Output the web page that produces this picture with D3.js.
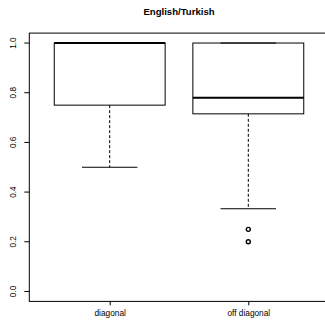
<!DOCTYPE html>
<html><head><meta charset="utf-8">
<script src="https://cdn.jsdelivr.net/npm/d3@7"></script>
<style>body{margin:0;background:#fff}svg{display:block;font-family:"Liberation Sans",Arial,sans-serif}</style>
</head><body>
<script>
const title = "English/Turkish";
const categories = ["diagonal", "off diagonal"];
const q1 = [0.75, 0.715];
const medians = [1.0, 0.78];
const q3 = [1.0, 1.0];
const whiskerLow = [0.5, 0.333];
const whiskerHigh = [1.0, 1.0];
const outliers = [[], [0.25, 0.2]];
const yTicks = [0.0, 0.2, 0.4, 0.6, 0.8, 1.0];

const W = 325, H = 322;
const svg = d3.select("body").append("svg").attr("width", W).attr("height", H);

const x = d3.scaleLinear().domain([0.42, 2.58]).range([29.3, 328.7]);
const y = d3.scaleLinear().domain([-0.04, 1.04]).range([301.4, 33.1]);
const bw = 0.4;

svg.append("rect").attr("x", x(0.42)).attr("y", y(1.04)).attr("width", x(2.58) - x(0.42)).attr("height", y(-0.04) - y(1.04))
  .attr("fill", "none").attr("stroke", "#000").attr("stroke-width", 1);

svg.append("text").attr("x", (x(0.42) + x(2.58)) / 2).attr("y", 15).attr("text-anchor", "middle")
  .attr("font-size", 9.6).attr("font-weight", "bold").text(title);

const yAxis = svg.append("g").attr("transform", `translate(${x(0.42)},0)`)
  .call(d3.axisLeft(y).tickValues(yTicks).tickSize(5).tickFormat(d3.format(".1f")));
yAxis.select(".domain").remove();
yAxis.selectAll("line").attr("stroke", "#000");
yAxis.selectAll("text").attr("font-size", 8.2).attr("font-family", "Liberation Sans,Arial,sans-serif")
  .attr("fill", "#000").attr("text-anchor", "middle")
  .attr("transform", function(d){ return `translate(${-16},${y(d)}) rotate(-90)`; })
  .attr("x", 0).attr("y", 0).attr("dy", "0.35em");
yAxis.selectAll(".tick").attr("transform", "translate(0,0)");
yAxis.selectAll(".tick line").attr("y1", d => y(d)).attr("y2", d => y(d)).attr("x2", -5);

const xAxis = svg.append("g").attr("transform", `translate(0,${y(-0.04)})`)
  .call(d3.axisBottom(x).tickValues([1, 2]).tickSize(4).tickFormat((d, i) => categories[i]));
xAxis.select(".domain").remove();
xAxis.selectAll("line").attr("stroke", "#000");
xAxis.selectAll("text").attr("font-size", 8.3).attr("font-family", "Liberation Sans,Arial,sans-serif")
  .attr("fill", "#000").attr("y", 15).attr("dy", 0);

categories.forEach((c, i) => {
  const cx = i + 1;
  const g = svg.append("g");
  g.append("line").attr("x1", x(cx)).attr("x2", x(cx)).attr("y1", y(q1[i])).attr("y2", y(whiskerLow[i]))
    .attr("stroke", "#000").attr("stroke-dasharray", "3,2");
  if (whiskerHigh[i] > q3[i]) {
    g.append("line").attr("x1", x(cx)).attr("x2", x(cx)).attr("y1", y(q3[i])).attr("y2", y(whiskerHigh[i]))
      .attr("stroke", "#000").attr("stroke-dasharray", "3,2");
  }
  g.append("line").attr("x1", x(cx - bw / 2)).attr("x2", x(cx + bw / 2)).attr("y1", y(whiskerLow[i])).attr("y2", y(whiskerLow[i])).attr("stroke", "#000");
  g.append("line").attr("x1", x(cx - bw / 2)).attr("x2", x(cx + bw / 2)).attr("y1", y(whiskerHigh[i])).attr("y2", y(whiskerHigh[i])).attr("stroke", "#000");
  g.append("rect").attr("x", x(cx - bw)).attr("y", y(q3[i])).attr("width", x(cx + bw) - x(cx - bw)).attr("height", y(q1[i]) - y(q3[i]))
    .attr("fill", "none").attr("stroke", "#000");
  g.append("line").attr("x1", x(cx - bw)).attr("x2", x(cx + bw)).attr("y1", y(medians[i])).attr("y2", y(medians[i]))
    .attr("stroke", "#000").attr("stroke-width", 2);
  outliers[i].forEach(v => {
    g.append("circle").attr("cx", x(cx)).attr("cy", y(v)).attr("r", 2).attr("fill", "none").attr("stroke", "#000").attr("stroke-width", 1.4);
  });
});
</script>
</body></html>
